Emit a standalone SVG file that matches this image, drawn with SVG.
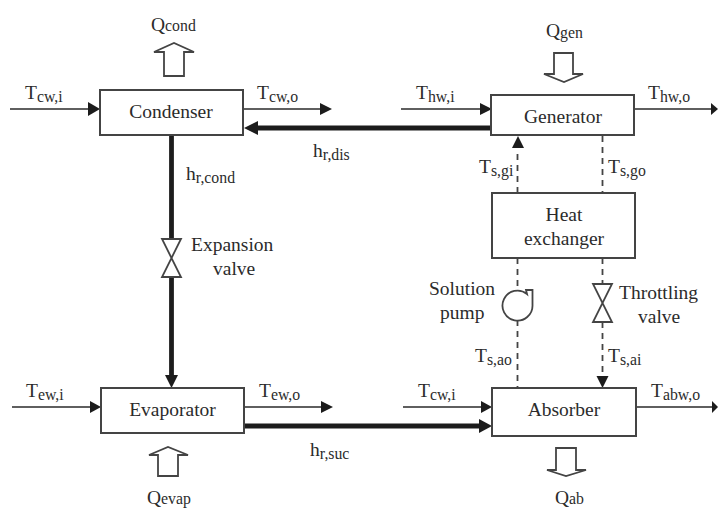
<svg xmlns="http://www.w3.org/2000/svg" width="718" height="508" viewBox="0 0 718 508">
<style>
text{font-family:"Liberation Serif","Times New Roman",serif;font-size:19.5px;fill:#2b2b2b}
.m{text-anchor:middle}
.s{font-size:15.8px}
.box{fill:#fff;stroke:#444;stroke-width:2}
.thin{fill:none;stroke:#2a2a2a;stroke-width:1.6}
.thick{fill:none;stroke:#1c1c1c;stroke-width:4.8}
.dash{fill:none;stroke:#444;stroke-width:1.8;stroke-dasharray:6 5}
.head{fill:#1c1c1c}
.open{fill:#fff;stroke:#444;stroke-width:1.8;stroke-linejoin:miter}
</style>
<rect width="718" height="508" fill="#fff"/>
<g id="connectors">
<path class="thin" d="M10 109H90"/><path class="head" d="M88 102L100 109L88 116Z"/>
<path class="thin" d="M243 109H322"/><path class="head" d="M320 103L332 109L320 115Z"/>
<path class="thin" d="M401 109H482"/><path class="head" d="M480 103L492 109L480 115Z"/>
<path class="thin" d="M634 109H712"/><path class="head" d="M711 103L718 109L711 115V103Z"/>
<path class="thick" d="M491 128H256"/><path class="head" d="M244 128L258 121V135Z"/>
<path class="thick" d="M171.500 136V240"/>
<path class="thick" d="M171.500 277V376"/><path class="head" d="M171.500 388L165 375H178Z"/>
<path class="thin" d="M12 407H92"/><path class="head" d="M90 401L101 407L90 413Z"/>
<path class="thin" d="M244 407H323"/><path class="head" d="M321 401L333 407L321 413Z"/>
<path class="thin" d="M403 407H483"/><path class="head" d="M481 401L492 407L481 413Z"/>
<path class="thin" d="M636 407H712"/><path class="head" d="M712 401L718 407L712 413Z"/>
<path class="thick" d="M244 426H482"/><path class="head" d="M492 426L479 419V433Z"/>
<path class="dash" d="M517.500 193V150"/><path class="head" d="M518 136L524 148H512Z"/>
<path class="dash" d="M602.500 136V193"/>
<path class="dash" d="M517.500 258V290"/><path class="dash" d="M517.500 320V388"/>
<path class="dash" d="M602.500 258V284"/><path class="dash" d="M602.500 322V376"/>
<path class="head" d="M602.500 388L596.500 376H608.500Z"/>
</g>
<g id="condenser"><rect class="box" x="100" y="90" width="143" height="45"/><text class="m" x="171" y="118">Condenser</text></g>
<g id="generator"><rect class="box" x="491" y="95" width="143" height="40"/><text class="m" x="563" y="123">Generator</text></g>
<g id="heat-exchanger"><rect class="box" x="492" y="193" width="143" height="65"/><text class="m" x="564" y="221">Heat</text><text class="m" x="564" y="245">exchanger</text></g>
<g id="evaporator"><rect class="box" x="101" y="388" width="143" height="45"/><text class="m" x="172.500" y="416">Evaporator</text></g>
<g id="absorber"><rect class="box" x="492" y="388" width="144" height="48"/><text class="m" x="564" y="416">Absorber</text></g>
<g id="expansion-valve"><path class="open" d="M162 239H181L162 277H181Z"/><text x="191" y="251">Expansion</text><text x="213" y="275">valve</text></g>
<g id="throttling-valve"><path class="open" d="M593 284H612L593 322H612Z"/><text x="619" y="299">Throttling</text><text x="638" y="323">valve</text></g>
<g id="solution-pump"><path class="open" d="M527 294A15 15 0 1 0 532.500 305V290H526Z"/><text x="429" y="295">Solution</text><text x="440" y="319">pump</text></g>
<g id="q-cond"><path class="open" d="M164 76V52H154L174 43L194 52H184V76Z"/><text x="151" y="31">Q<tspan class="s">cond</tspan></text></g>
<g id="q-gen"><path class="open" d="M554 53V74H544L564 82L583 74H573V53Z"/><text x="546" y="37">Q<tspan class="s" dy="1">gen</tspan></text></g>
<g id="q-evap"><path class="open" d="M158 476V455H149L168 447L188 455H178V476Z"/><text x="147" y="504">Q<tspan class="s" dy="0">evap</tspan></text></g>
<g id="q-ab"><path class="open" d="M556 448V470H547L566 476L586 470H576V448Z"/><text x="555" y="504">Q<tspan class="s">ab</tspan></text></g>
<g id="labels">
<text x="25" y="99">T<tspan class="s" dy="3">cw,i</tspan></text>
<text x="257" y="99">T<tspan class="s" dy="3">cw,o</tspan></text>
<text x="416" y="99">T<tspan class="s" dy="3">hw,i</tspan></text>
<text x="648" y="99">T<tspan class="s" dy="3">hw,o</tspan></text>
<text x="313" y="157">h<tspan class="s" dy="3">r,dis</tspan></text>
<text x="186" y="180">h<tspan class="s" dy="3">r,cond</tspan></text>
<text x="479" y="173">T<tspan class="s" dy="3">s,gi</tspan></text>
<text x="608" y="173">T<tspan class="s" dy="3">s,go</tspan></text>
<text x="475" y="362">T<tspan class="s" dy="3">s,ao</tspan></text>
<text x="608" y="362">T<tspan class="s" dy="3">s,ai</tspan></text>
<text x="26" y="397">T<tspan class="s" dy="3">ew,i</tspan></text>
<text x="259" y="397">T<tspan class="s" dy="3">ew,o</tspan></text>
<text x="418" y="397">T<tspan class="s" dy="3">cw,i</tspan></text>
<text x="651" y="397">T<tspan class="s" dy="3">abw,o</tspan></text>
<text x="310" y="456">h<tspan class="s" dy="3">r,suc</tspan></text>
</g>
</svg>
